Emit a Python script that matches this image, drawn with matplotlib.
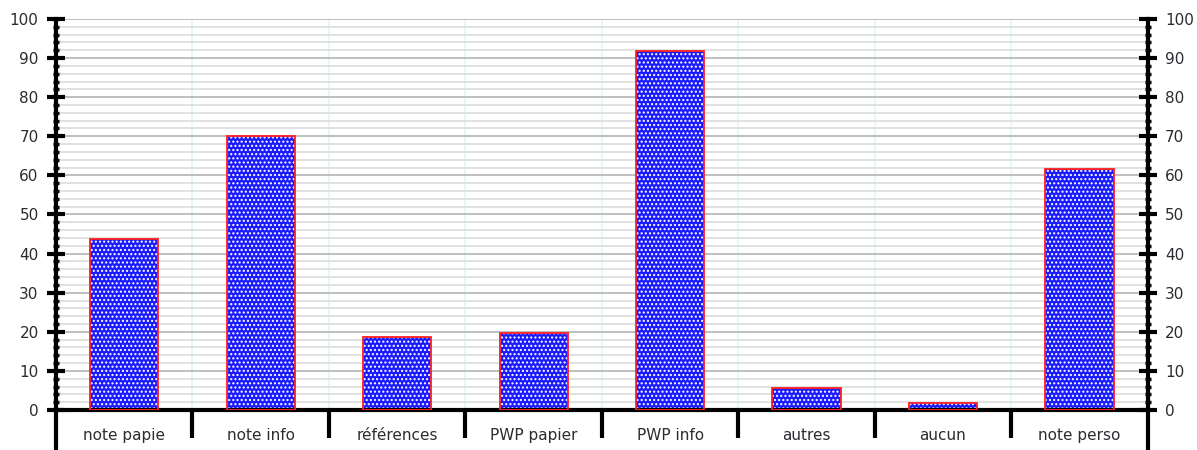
import numpy as np
import matplotlib.pyplot as plt
from matplotlib.ticker import MultipleLocator, FixedLocator, NullFormatter

# ── Data ──────────────────────────────────────────────────────────────────────
categories = ["note papie", "note info", "références", "PWP papier",
              "PWP info", "autres", "aucun", "note perso"]
values = [43.8, 70, 18.6, 19.8, 91.8, 5.5, 1.9, 61.5]
y_ticks = list(range(0, 101, 10))

BLUE = "#1a1aff"
RED = "#ff2020"
TEXT = "#2e2a30"

fig = plt.figure(figsize=(11.97, 4.5), dpi=100)
ax = fig.add_axes([0.0468, 0.0889, 0.912, 0.869])

n = len(categories)
x = np.arange(n)

# grid: minor every 2, major every 10
ax.set_ylim(0, 100)
ax.set_xlim(-0.5, n - 0.5)
ax.yaxis.set_major_locator(FixedLocator(y_ticks))
ax.yaxis.set_minor_locator(MultipleLocator(2))
ax.grid(axis="y", which="minor", color="#dcdcdc", lw=1.2, zorder=0)
ax.grid(axis="y", which="major", color="#b4b4b4", lw=1.2, zorder=0)
for b in np.arange(0.5, n - 0.5, 1):
    ax.axvline(b, color="#e0f6f6", lw=1.2, zorder=0.5)

# bars: blue with white dot pattern, red edge
ax.bar(x, values, width=0.5, color=BLUE, edgecolor="white", hatch="....",
       lw=0, zorder=2)
ax.bar(x, values, width=0.5, fill=False, edgecolor=RED, lw=1.3, zorder=3)

# spines
ax.spines["top"].set_visible(False)
for s in ["bottom", "left", "right"]:
    ax.spines[s].set_linewidth(3)

# y ticks both sides
ax.tick_params(axis="y", which="major", direction="inout", length=13, width=3,
               left=True, right=True, labelleft=True, labelright=True,
               labelsize=11, labelcolor=TEXT, pad=6)
ax.tick_params(axis="y", which="minor", direction="inout", length=5, width=2.5,
               left=True, right=True)

# x axis: separators at boundaries, labels at centres
ax.xaxis.set_major_locator(FixedLocator(np.arange(0.5, n - 0.5, 1)))
ax.xaxis.set_major_formatter(NullFormatter())
ax.xaxis.set_minor_locator(FixedLocator(x))
ax.set_xticklabels(categories, minor=True)
ax.tick_params(axis="x", which="major", direction="out", length=20, width=3)
ax.tick_params(axis="x", which="minor", length=0, labelsize=11,
               labelcolor=TEXT, pad=13)

# left/right frame lines extend down below the axis
for xs in (0, 1):
    ax.plot([xs, xs], [0, -0.11], transform=ax.transAxes, color="black",
            lw=3, clip_on=False, zorder=5)

fig.savefig("out.png", dpi=100)
